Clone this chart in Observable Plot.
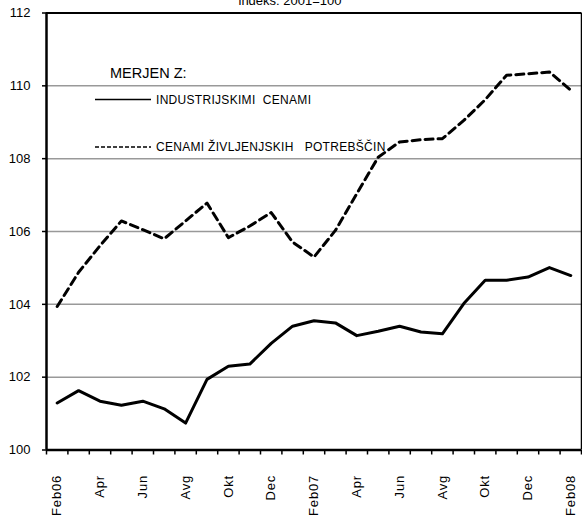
<!DOCTYPE html>
<html><head><meta charset="utf-8">
<script src="https://cdn.jsdelivr.net/npm/d3@7"></script>
<script src="https://cdn.jsdelivr.net/npm/@observablehq/plot@0.6"></script>
<style>
body{margin:0;background:#fff;font-family:"Liberation Sans",Arial,sans-serif}
#wrap{position:relative;width:582px;height:520px;overflow:hidden}
#overlay{position:absolute;left:0;top:0;pointer-events:none}
.xlab text{letter-spacing:0.8px}
</style></head><body><div id="wrap"></div>
<script>
const months = ["Feb06","Mar06","Apr06","Maj06","Jun06","Jul06","Avg06","Sep06","Okt06","Nov06","Dec06","Jan07",
  "Feb07","Mar07","Apr07","Maj07","Jun07","Jul07","Avg07","Sep07","Okt07","Nov07","Dec07","Jan08","Feb08"];
const industrial = [101.29,101.63,101.34,101.23,101.34,101.13,100.74,101.94,102.30,102.36,102.93,103.40,
  103.55,103.49,103.14,103.26,103.40,103.24,103.19,104.02,104.66,104.66,104.75,105.01,104.79];
const consumer = [103.94,104.88,105.61,106.29,106.05,105.80,106.29,106.78,105.83,106.15,106.52,105.71,
  105.30,106.03,107.04,108.04,108.46,108.52,108.55,109.05,109.62,110.29,110.33,110.38,109.88];
const tickLabels = ["Feb06","Apr","Jun","Avg","Okt","Dec","Feb07","Apr","Jun","Avg","Okt","Dec","Feb08"];
const yTicks = [100,102,104,106,108,110,112];
const gridValues = [102,104,106,108,110];
const title = "indeks: 2001=100";
const legendTitle = "MERJEN Z:";
const seriesNames = ["INDUSTRIJSKIMI  CENAMI","CENAMI ŽIVLJENJSKIH   POTREBŠČIN"];

const n = months.length;
const boundaries = d3.range(n + 1).map(i => i - 0.5);
const labelIdx = d3.range(n).filter(i => i % 2 === 0);
const ind = industrial.map((v, i) => ({i, v}));
const con = consumer.map((v, i) => ({i, v}));

const chart = Plot.plot({
  width: 582, height: 520,
  marginLeft: 46, marginRight: 1, marginTop: 12.5, marginBottom: 70.5,
  x: {domain: [-0.5, n - 0.5]},
  y: {domain: [100, 112]},
  style: {fontFamily: "'Liberation Sans', Arial, sans-serif", fontSize: "13px", color: "#000", background: "#fff", overflow: "hidden"},
  marks: [
    Plot.ruleY(gridValues, {stroke: "#999", strokeWidth: 1.5}),
    Plot.ruleY([112], {stroke: "#000", strokeWidth: 2}),
    Plot.ruleX([n - 0.5], {stroke: "#000", strokeWidth: 1.5}),
    Plot.axisY({ticks: yTicks, tickSize: 4, tickPadding: 12, label: null, fontSize: 13, strokeWidth: 1.5}),
    Plot.axisX({ticks: boundaries, tickSize: 5, tickFormat: () => "", label: null, strokeWidth: 1.5}),
    Plot.axisX({ticks: labelIdx, tickSize: 0, tickRotate: -90, tickPadding: 25, fontSize: 13, className: "xlab",
      tickFormat: i => tickLabels[i / 2], label: null}),
    Plot.line(ind, {x: "i", y: "v", stroke: "#000", strokeWidth: 3}),
    Plot.line(con, {x: "i", y: "v", stroke: "#000", strokeWidth: 3, strokeDasharray: "8,5"}),
    Plot.ruleX([-0.5], {stroke: "#000", strokeWidth: 2.5}),
    Plot.ruleY([100], {stroke: "#000", strokeWidth: 2.5}),
    Plot.text([title], {frameAnchor: "top", lineAnchor: "bottom", dy: -8.5, dx: -24, fontSize: 13})
  ]
});
document.getElementById("wrap").appendChild(chart);

// legend overlay
const svg = d3.select("#wrap").append("svg").attr("id", "overlay").attr("width", 582).attr("height", 520)
  .style("font-family", "'Liberation Sans', Arial, sans-serif");
svg.append("text").attr("x", 110).attr("y", 78).attr("font-size", 14.5).text(legendTitle);
const rows = [{y: 99.5, dash: null}, {y: 147, dash: "4,2"}];
rows.forEach((r, k) => {
  svg.append("line").attr("x1", 95).attr("x2", 151).attr("y1", r.y).attr("y2", r.y)
    .attr("stroke", "#000").attr("stroke-width", 1.5).attr("stroke-dasharray", r.dash);
  svg.append("text").attr("x", 156).attr("y", r.y + 4.3).attr("font-size", 12)
    .attr("letter-spacing", 0.3).attr("xml:space", "preserve").style("white-space", "pre").text(seriesNames[k]);
});
</script></body></html>
